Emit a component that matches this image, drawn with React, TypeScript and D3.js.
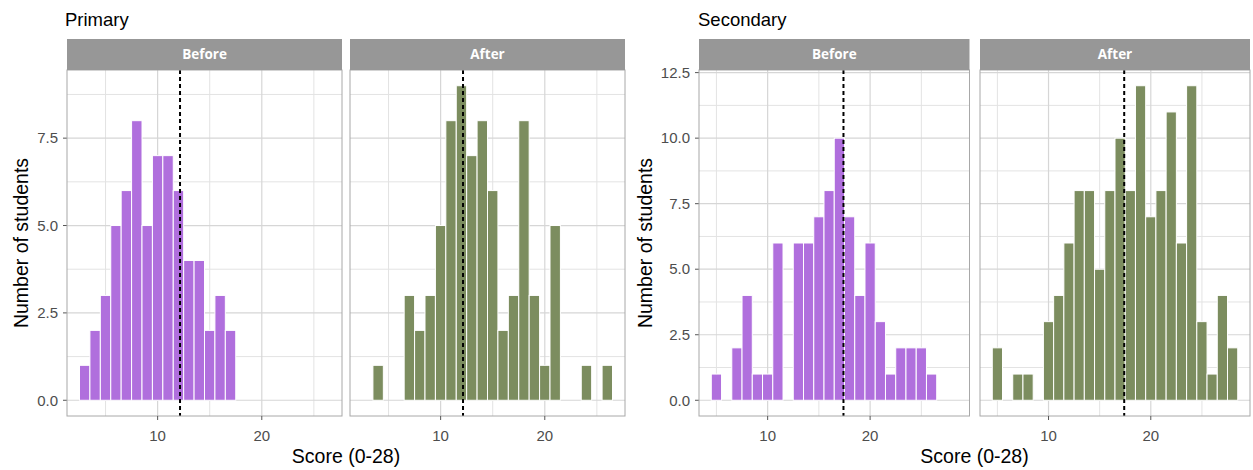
import React from "react";
import * as d3 from "d3";

// ---------- data ----------
const primaryScores = [3, 4, 5, 6, 7, 8, 9, 10, 11, 12, 13, 14, 15, 16, 17, 18, 19, 20, 21, 22, 23, 24, 25, 26];
const primaryBefore = [1, 2, 3, 5, 6, 8, 5, 7, 7, 6, 4, 4, 2, 3, 2, 0, 0, 0, 0, 0, 0, 0, 0, 0];
const primaryAfter = [0, 1, 0, 0, 3, 2, 3, 5, 8, 9, 7, 8, 6, 2, 3, 8, 3, 1, 5, 0, 0, 1, 0, 1];
const primaryRef = 12.15;

const secondaryScores = [5, 6, 7, 8, 9, 10, 11, 12, 13, 14, 15, 16, 17, 18, 19, 20, 21, 22, 23, 24, 25, 26, 27, 28];
const secondaryBefore = [1, 0, 2, 4, 1, 1, 6, 0, 6, 6, 7, 8, 10, 7, 4, 6, 3, 1, 2, 2, 2, 1, 0, 0];
const secondaryAfter = [2, 0, 1, 1, 0, 3, 4, 6, 8, 8, 5, 8, 10, 8, 12, 7, 8, 11, 6, 12, 3, 1, 4, 2];
const secondaryRef = 17.4;

const facetLabels = ["Before", "After"];
const primaryYTicks = [0, 2.5, 5, 7.5];
const secondaryYTicks = [0, 2.5, 5, 7.5, 10, 12.5];
const xTicks = [10, 20];
const xMinorTicks = [5, 15, 25];

const PURPLE = "#b06fdd";
const GREEN = "#7c8d5f";
const FONT = "'Liberation Sans', Arial, sans-serif";

type Panel = { x0: number; x1: number; counts: number[]; fill: string; label: string };

function Block(props: {
  title: string;
  titleX: number;
  scores: number[];
  panels: Panel[];
  yTicks: number[];
  refLine: number;
  yTitleX: number;
}) {
  const { title, titleX, scores, panels, yTicks, refLine, yTitleX } = props;
  const top = 70;
  const bottom = 416;
  const stripTop = 39;
  const lo = (d3.min(scores) as number) - 0.5;
  const hi = (d3.max(scores) as number) + 0.5;
  const pad = (hi - lo) * 0.05;
  const maxCount = d3.max(panels.flatMap((p) => p.counts)) as number;
  const y = d3.scaleLinear().domain([-maxCount * 0.05, maxCount * 1.05]).range([bottom, top]);
  const yStep = yTicks[1] - yTicks[0];
  const yMinor = yTicks.map((t) => t + yStep / 2).filter((t) => y(t) > top);
  const x0 = panels[0].x0;
  const x1 = panels[panels.length - 1].x1;

  return (
    <g>
      <text x={titleX} y={26} fontFamily={FONT} fontSize={18.5} fill="#000">
        {title}
      </text>
      {/* y axis title */}
      <text
        transform={`translate(${yTitleX},${(top + bottom) / 2}) rotate(-90)`}
        textAnchor="middle"
        fontFamily={FONT}
        fontSize={19.5}
        fill="#000"
      >
        Number of students
      </text>
      {/* y tick labels */}
      {yTicks.map((t) => (
        <g key={"yt" + t}>
          <text
            x={x0 - 9}
            y={y(t)}
            dy="0.35em"
            textAnchor="end"
            fontFamily={FONT}
            fontSize={15}
            fill="#4d4d4d"
          >
            {d3.format(".1f")(t)}
          </text>
          <line x1={x0 - 4} x2={x0} y1={y(t)} y2={y(t)} stroke="#555" strokeWidth={1} />
        </g>
      ))}
      {/* x axis title */}
      <text
        x={(x0 + x1) / 2}
        y={463}
        textAnchor="middle"
        fontFamily={FONT}
        fontSize={19.5}
        fill="#000"
      >
        Score (0-28)
      </text>
      {panels.map((p, i) => {
        const x = d3.scaleLinear().domain([lo - pad, hi + pad]).range([p.x0, p.x1]);
        return (
          <g key={"p" + i}>
            <rect x={p.x0} y={top} width={p.x1 - p.x0} height={bottom - top} fill="#fff" />
            {yMinor.map((t) => (
              <line key={"ym" + t} x1={p.x0} x2={p.x1} y1={y(t)} y2={y(t)} stroke="#e3e3e3" strokeWidth={1} />
            ))}
            {xMinorTicks.map((t) => (
              <line key={"xm" + t} x1={x(t)} x2={x(t)} y1={top} y2={bottom} stroke="#e3e3e3" strokeWidth={1} />
            ))}
            {yTicks.map((t) => (
              <line key={"yg" + t} x1={p.x0} x2={p.x1} y1={y(t)} y2={y(t)} stroke="#d6d6d6" strokeWidth={1.2} />
            ))}
            {xTicks.map((t) => (
              <line key={"xg" + t} x1={x(t)} x2={x(t)} y1={top} y2={bottom} stroke="#d6d6d6" strokeWidth={1.2} />
            ))}
            {scores.map((s, j) =>
              p.counts[j] > 0 ? (
                <rect
                  key={"b" + s}
                  x={x(s - 0.5)}
                  y={y(p.counts[j])}
                  width={x(s + 0.5) - x(s - 0.5)}
                  height={y(0) - y(p.counts[j])}
                  fill={p.fill}
                  stroke="#fff"
                  strokeWidth={1}
                />
              ) : null
            )}
            <line
              x1={x(refLine)}
              x2={x(refLine)}
              y1={top}
              y2={bottom}
              stroke="#000"
              strokeWidth={2}
              strokeDasharray="4,3"
            />
            <rect
              x={p.x0}
              y={top}
              width={p.x1 - p.x0}
              height={bottom - top}
              fill="none"
              stroke="#a8a8a8"
              strokeWidth={1}
            />
            {/* strip */}
            <rect x={p.x0} y={stripTop} width={p.x1 - p.x0} height={top - stripTop} fill="#979797" />
            <text
              x={(p.x0 + p.x1) / 2}
              y={(stripTop + top) / 2}
              dy="0.36em"
              textAnchor="middle"
              fontFamily="'Open Sans', sans-serif"
              fontWeight={700}
              fontSize={13.5}
              fill="#fff"
            >
              {p.label}
            </text>
            {/* x ticks */}
            {xTicks.map((t) => (
              <g key={"xt" + t}>
                <line x1={x(t)} x2={x(t)} y1={bottom} y2={bottom + 4} stroke="#555" strokeWidth={1} />
                <text
                  x={x(t)}
                  y={441}
                  textAnchor="middle"
                  fontFamily={FONT}
                  fontSize={15}
                  fill="#4d4d4d"
                >
                  {t}
                </text>
              </g>
            ))}
          </g>
        );
      })}
    </g>
  );
}

export default function App() {
  return (
    <svg
      width={1253}
      height={470}
      style={{ position: "absolute", left: 0, top: 0, background: "#fff" }}
    >
      <rect width={1253} height={470} fill="#fff" />
      <Block
        title="Primary"
        titleX={65}
        scores={primaryScores}
        yTicks={primaryYTicks}
        refLine={primaryRef}
        yTitleX={28}
        panels={[
          { x0: 67, x1: 342, counts: primaryBefore, fill: PURPLE, label: facetLabels[0] },
          { x0: 350, x1: 625, counts: primaryAfter, fill: GREEN, label: facetLabels[1] },
        ]}
      />
      <Block
        title="Secondary"
        titleX={698}
        scores={secondaryScores}
        yTicks={secondaryYTicks}
        refLine={secondaryRef}
        yTitleX={652}
        panels={[
          { x0: 699, x1: 969.5, counts: secondaryBefore, fill: PURPLE, label: facetLabels[0] },
          { x0: 980, x1: 1250, counts: secondaryAfter, fill: GREEN, label: facetLabels[1] },
        ]}
      />
    </svg>
  );
}
